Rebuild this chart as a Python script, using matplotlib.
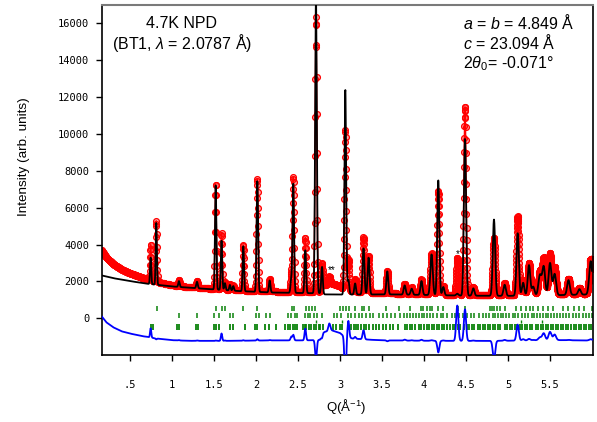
import numpy as np
import matplotlib
matplotlib.use("Agg")
import matplotlib.pyplot as plt

# ---------------- data ----------------
wavelength = 2.0787          # Å, BT1
two_theta_start, two_theta_end, two_theta_step = 3.0, 166.0, 0.05

# Bragg peaks: position (Q, 1/Å), observed / calculated net heights, gaussian sigma
peak_q = [0.746, 0.813, 1.083, 1.298, 1.520, 1.590, 1.630, 1.690, 1.730, 1.849,
          2.016, 2.163, 2.420, 2.444, 2.587, 2.714, 2.786, 2.873, 3.063, 3.100,
          3.180, 3.280, 3.340, 3.563, 3.770, 3.853, 3.970, 4.090, 4.170, 4.230,
          4.396, 4.488, 4.587, 4.833, 4.960, 5.115, 5.180, 5.250, 5.300, 5.380,
          5.425, 5.500, 5.555, 5.720, 5.850, 5.985]
peak_obs = [1950, 3300, 340, 370, 5720, 3060, 400, 300, 250, 2475,
            6070, 670, 900, 6200, 2965, 14860, 1300, 400, 8630, 1680,
            700, 2990, 2000, 1200, 550, 350, 800, 2230, 5600, 470,
            2015, 10210, 420, 3100, 645, 4250, 770, 1730, 500, 1250,
            1920, 2190, 1450, 820, 300, 1870]
peak_calc = [1450, 3350, 320, 350, 5700, 2660, 380, 300, 250, 2450,
             6000, 650, 700, 5900, 2330, 15900, 1460, 0, 11100, 790,
             600, 2500, 2000, 1250, 500, 330, 750, 2200, 6230, 450,
             100, 8500, 400, 4130, 600, 3385, 700, 1650, 480, 1100,
             1550, 1750, 1150, 800, 300, 1800]
peak_sigma = [0.007, 0.007, 0.008, 0.009, 0.008, 0.008, 0.008, 0.008, 0.008, 0.008,
              0.009, 0.009, 0.009, 0.009, 0.009, 0.010, 0.009, 0.012, 0.010, 0.010,
              0.010, 0.011, 0.011, 0.011, 0.012, 0.012, 0.012, 0.014, 0.012, 0.012,
              0.013, 0.013, 0.013, 0.014, 0.014, 0.014, 0.014, 0.015, 0.015, 0.018,
              0.017, 0.017, 0.017, 0.016, 0.016, 0.018]

# background levels
obs_bg_q = [0.16, 0.22, 0.30, 0.40, 0.50, 0.65, 0.80, 1.00, 1.20, 1.50, 1.80, 2.20,
            2.60, 2.76, 2.80, 2.90, 3.00, 3.04, 3.15, 3.40, 4.00, 4.50, 5.00, 5.50, 6.00]
obs_bg_i = [3710, 3300, 2950, 2650, 2450, 2200, 2000, 1800, 1700, 1600, 1520, 1460,
            1430, 1450, 1800, 1900, 1750, 1600, 1450, 1380, 1310, 1260, 1260, 1330, 1350]
calc_bg_q = [0.16, 0.30, 0.50, 0.70, 1.00, 1.40, 1.80, 2.20, 2.60, 2.76, 2.82, 3.00,
             3.60, 4.00, 4.50, 5.00, 5.50, 6.00]
calc_bg_i = [2330, 2180, 2020, 1880, 1730, 1600, 1480, 1400, 1370, 1360, 1300, 1290,
             1300, 1270, 1230, 1220, 1250, 1300]

diff_offset = -1250

# reflection markers (Q) for each phase
refl_row1 = [0.817, 1.52, 1.60, 1.63, 1.85, 2.01, 2.43, 2.45, 2.59, 2.63, 2.67, 2.70,
             3.00, 3.035, 3.068, 3.107, 3.18, 3.265, 3.286, 3.34, 3.55, 3.70, 3.83,
             3.97, 3.99, 4.03, 4.07, 4.09, 4.17, 4.23, 4.41, 4.49, 4.786, 4.806, 4.833,
             4.865, 4.905, 4.96, 5.10, 5.16, 5.22, 5.26, 5.30, 5.36, 5.42, 5.48, 5.54,
             5.66, 5.72, 5.78, 5.84, 5.90, 5.996]
refl_row2 = [1.083, 1.30, 1.50, 1.56, 1.69, 1.73, 1.997, 2.04, 2.115, 2.17, 2.385,
             2.42, 2.47, 2.49, 2.58, 2.62, 2.64, 2.69, 2.73, 2.79, 2.929, 2.968, 3.008,
             3.099, 3.127, 3.179, 3.230, 3.266, 3.310, 3.357, 3.397, 3.468, 3.516,
             3.556, 3.603, 3.655, 3.714, 3.762, 3.802, 3.833, 3.873, 3.905, 3.937,
             3.972, 4.004, 4.040, 4.071, 4.111, 4.151, 4.198, 4.230, 4.278, 4.329,
             4.369, 4.421, 4.460, 4.508, 4.556, 4.595, 4.659, 4.698, 4.738, 4.778,
             4.817, 4.845, 4.885, 4.913, 4.944, 4.976, 5.016, 5.056, 5.087, 5.123,
             5.163, 5.202, 5.242, 5.282, 5.310, 5.341, 5.381, 5.421, 5.452, 5.480,
             5.512, 5.548, 5.587, 5.619, 5.659, 5.690, 5.730, 5.770, 5.810, 5.849,
             5.889, 5.929, 5.968, 5.998]
refl_row3 = [0.746, 0.777, 1.056, 1.087, 1.29, 1.31, 1.50, 1.52, 1.56, 1.69, 1.73,
             1.87, 1.99, 2.01, 2.11, 2.16, 2.24, 2.35, 2.38, 2.40, 2.44, 2.46, 2.49,
             2.56, 2.58, 2.60, 2.63, 2.65, 2.69, 2.71, 2.75, 2.76, 2.80, 2.92, 2.95,
             3.00, 3.02, 3.10, 3.13, 3.17, 3.19, 3.22, 3.25, 3.29, 3.31, 3.35, 3.39,
             3.43, 3.47, 3.51, 3.55, 3.59, 3.63, 3.69, 3.77, 3.80, 3.83, 3.86, 3.89,
             3.94, 3.97, 4.00, 4.03, 4.06, 4.09, 4.12, 4.15, 4.18, 4.21, 4.24, 4.27,
             4.31, 4.34, 4.37, 4.40, 4.43, 4.48, 4.51, 4.54, 4.57, 4.60, 4.64, 4.67,
             4.70, 4.73, 4.76, 4.79, 4.82, 4.85, 4.88, 4.91, 4.96, 4.99, 5.02, 5.05,
             5.08, 5.11, 5.14, 5.17, 5.20, 5.23, 5.26, 5.29, 5.33, 5.36, 5.39, 5.42,
             5.45, 5.48, 5.51, 5.54, 5.57, 5.60, 5.63, 5.66, 5.69, 5.72, 5.75, 5.78,
             5.81, 5.84, 5.87, 5.90, 5.93, 5.96, 5.99]
refl_row4 = [2.71, 3.02, 5.16, 5.40]

x_tick_values = [0.5, 1.0, 1.5, 2.0, 2.5, 3.0, 3.5, 4.0, 4.5, 5.0, 5.5]
x_tick_labels = [".5", "1", "1.5", "2", "2.5", "3", "3.5", "4", "4.5", "5", "5.5"]
y_tick_values = [0, 2000, 4000, 6000, 8000, 10000, 12000, 14000, 16000]

# ---------------- profiles ----------------
two_theta = np.arange(two_theta_start, two_theta_end, two_theta_step)
q = 4 * np.pi * np.sin(np.radians(two_theta / 2)) / wavelength


def profile(heights, bg_q, bg_i):
    y = np.interp(q, bg_q, bg_i).astype(float)
    for q0, h, s in zip(peak_q, heights, peak_sigma):
        y += h * np.exp(-0.5 * ((q - q0) / s) ** 2)
    return y


y_obs = profile(peak_obs, obs_bg_q, obs_bg_i)
y_calc = profile(peak_calc, calc_bg_q, calc_bg_i)
y_diff = y_obs - y_calc + diff_offset

# ---------------- figure ----------------
plt.rcParams['mathtext.fontset'] = 'custom'
plt.rcParams['mathtext.rm'] = 'Liberation Sans'
plt.rcParams['mathtext.it'] = 'Liberation Sans:italic'

fig = plt.figure(figsize=(5.97, 4.22), dpi=100)
ax = fig.add_axes([0.1703, 0.158, 0.8222, 0.8313])

ax.plot(q, y_obs, '-', color='red', lw=1.0, marker='o', ms=4.2,
        mfc=(1, 0, 0, 0.35), mec='red', mew=0.9, zorder=2)
ax.plot(q, y_calc, '-', color='black', lw=1.3, zorder=3)
ax.plot(q, y_diff, '-', color='blue', lw=1.3, zorder=3)

green = '#0a820a'
ax.vlines(refl_row1, 378, 648, color=green, lw=1.1, zorder=2)
ax.vlines(refl_row2, 30, 300, color=green, lw=1.1, zorder=2)
ax.vlines(refl_row3, -650, -330, color=green, lw=1.3, zorder=2)
ax.vlines(refl_row4, -235, -70, color=green, lw=1.0, zorder=2)

ax.set_xlim(0.163, 6.006)
ax.set_ylim(-2000, 17000)

mono = 'DejaVu Sans Mono'
ax.set_xticks(x_tick_values)
ax.set_xticklabels(x_tick_labels, fontfamily=mono, fontsize=7.5)
ax.set_yticks(y_tick_values)
ax.set_yticklabels([str(v) for v in y_tick_values], fontfamily=mono, fontsize=7.5)
ax.tick_params(axis='x', direction='out', length=4, width=1, pad=14)
ax.tick_params(axis='y', direction='out', length=4, width=1, pad=5)

for side in ('left', 'bottom', 'right'):
    ax.spines[side].set_linewidth(1.2)
    ax.spines[side].set_color('black')
ax.spines['top'].set_color('#7a7a7a')
ax.spines['top'].set_linewidth(1.5)

sans = 'Liberation Sans'
ax.set_xlabel('Q(Å$^{-1}$)', fontfamily=sans, fontsize=9.5)
ax.xaxis.set_label_coords(0.497, -0.118)
ax.set_ylabel('Intensity (arb. units)', fontfamily=sans, fontsize=9.7)
ax.yaxis.set_label_coords(-0.146, 0.567)

ax.text(0.163, 0.932, '4.7K NPD', transform=ax.transAxes, ha='center',
        va='baseline', fontfamily=sans, fontsize=11.5)
ax.text(0.163, 0.872, '(BT1, $\\lambda$ = 2.0787 Å)', transform=ax.transAxes,
        ha='center', va='baseline', fontfamily=sans, fontsize=11.5)
ax.text(0.736, 0.929, '$a$ = $b$ = 4.849 Å', transform=ax.transAxes,
        ha='left', va='baseline', fontfamily=sans, fontsize=11.5)
ax.text(0.736, 0.872, '$c$ = 23.094 Å', transform=ax.transAxes,
        ha='left', va='baseline', fontfamily=sans, fontsize=11.5)
ax.text(0.736, 0.818, '2$\\theta_0$= -0.071°', transform=ax.transAxes,
        ha='left', va='baseline', fontfamily=sans, fontsize=11.5)

ax.text(2.90, 2600, '**', ha='center', va='center', fontsize=7, fontfamily=sans)
ax.text(4.396, 3500, '*', ha='center', va='center', fontsize=7, fontfamily=sans)

fig.savefig('out.png', dpi=100)
